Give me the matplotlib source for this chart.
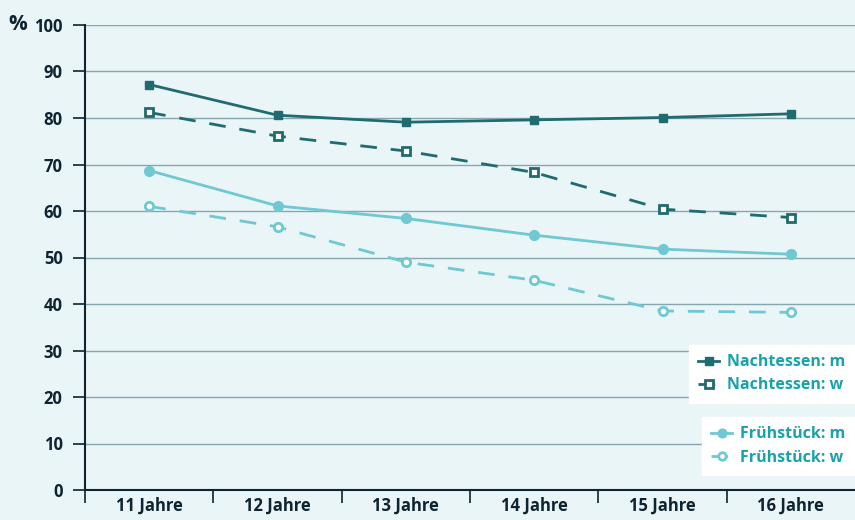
import matplotlib.pyplot as plt

# data
categories = ['11 Jahre', '12 Jahre', '13 Jahre', '14 Jahre', '15 Jahre', '16 Jahre']
nacht_m = [87.2, 80.6, 79.1, 79.6, 80.1, 80.9]
nacht_w = [81.2, 76.1, 72.9, 68.3, 60.4, 58.6]
frueh_m = [68.7, 61.1, 58.4, 54.8, 51.8, 50.7]
frueh_w = [61.0, 56.6, 49.0, 45.1, 38.5, 38.2]
yticks = [0, 10, 20, 30, 40, 50, 60, 70, 80, 90, 100]

dark = '#1f6b70'
light = '#6fc8d2'
bg = '#eaf5f8'
navy = '#0e2431'
legend_text = '#19a2ab'

plt.rcParams['font.family'] = ['Open Sans', 'DejaVu Sans']
plt.rcParams['font.weight'] = 'bold'

fig = plt.figure(figsize=(8.55, 5.2), dpi=100, facecolor=bg)
ax = fig.add_axes([85 / 855, 30 / 520, 770 / 855, 465 / 520])
ax.set_facecolor(bg)

x = range(len(categories))
l1, = ax.plot(x, nacht_m, color=dark, lw=2, marker='s', ms=6, mfc=dark, mec=dark)
l2, = ax.plot(x, nacht_w, color=dark, lw=2, ls=(0, (6, 5)), marker='s', ms=6,
              mfc='white', mec=dark, mew=2)
l3, = ax.plot(x, frueh_m, color=light, lw=2, marker='o', ms=7, mfc=light, mec=light)
l4, = ax.plot(x, frueh_w, color=light, lw=2, ls=(0, (6, 5)), marker='o', ms=6,
              mfc='white', mec=light, mew=2)

ax.set_xlim(-0.5, 5.5)
ax.set_ylim(0, 100)
ax.set_yticks(yticks)
ax.set_yticklabels([str(v) for v in yticks])
ax.set_xticks(list(x))
ax.set_xticklabels(categories)
ax.set_xticks([i - 0.5 for i in range(len(categories))], minor=True)
ax.tick_params(axis='x', which='major', length=0, pad=5, labelsize=12, labelcolor=navy)
ax.tick_params(axis='x', which='minor', length=9, width=1.2, color=navy)
ax.tick_params(axis='y', length=9, width=1.2, color=navy, pad=7, labelsize=12, labelcolor=navy)

for v in yticks[1:]:
    ax.axhline(v, color='#86a7ad', lw=1, zorder=0)

for s in ['top', 'right']:
    ax.spines[s].set_visible(False)
for s in ['left', 'bottom']:
    ax.spines[s].set_color(navy)
    ax.spines[s].set_linewidth(1.5)

fig.text(8 / 855, 1 - 24 / 520, '%', fontsize=15, color=navy, weight='bold', va='center')

legend_opts = dict(loc='lower right', frameon=True, fancybox=False, framealpha=1,
                   edgecolor='white', fontsize=11.5, handlelength=1.3, borderpad=0.6,
                   labelspacing=0.45, handletextpad=0.5, borderaxespad=0, markerscale=0.9)
leg1 = ax.legend([l1, l2], ['Nachtessen: m', 'Nachtessen: w'],
                 bbox_to_anchor=(1.0, 0.187), **legend_opts)
for t in leg1.get_texts():
    t.set_color(legend_text)
ax.add_artist(leg1)
leg2 = ax.legend([l3, l4], ['Frühstück: m', 'Frühstück: w'],
                 bbox_to_anchor=(1.0, 0.032), **legend_opts)
for t in leg2.get_texts():
    t.set_color(legend_text)

fig.savefig('out.png', dpi=100, facecolor=bg)
